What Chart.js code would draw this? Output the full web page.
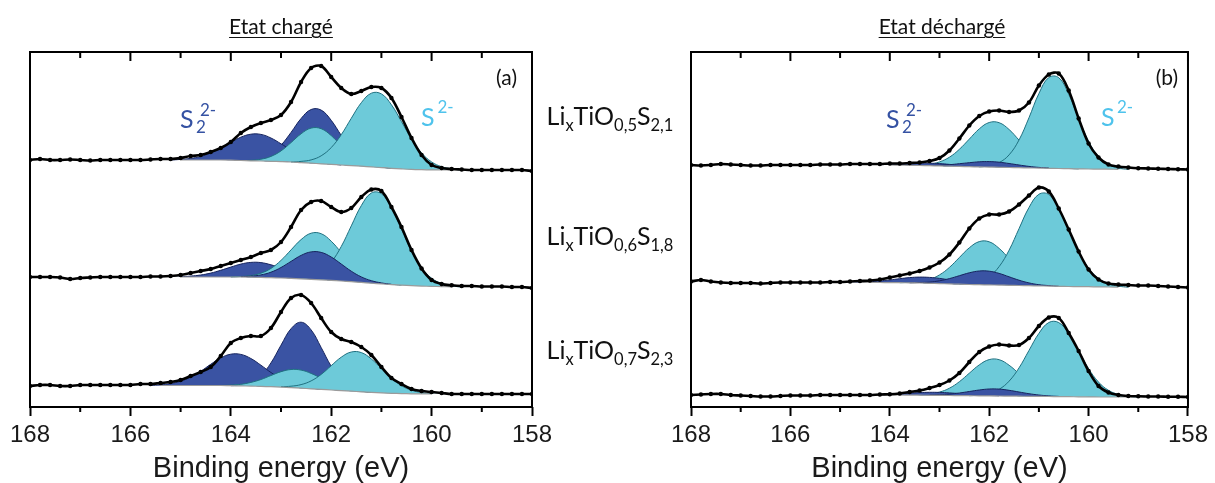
<!DOCTYPE html>
<html lang="fr">
<head>
<meta charset="utf-8">
<title>XPS S 2p - états chargé / déchargé</title>
<script src="https://cdn.jsdelivr.net/npm/chart.js@4.4.1/dist/chart.umd.min.js"></script>
<style>
  html, body { margin: 0; padding: 0; background: #fff; }
  #page { position: relative; width: 1215px; height: 483px; overflow: hidden; font-family: Lato, "Open Sans", sans-serif; color: #111; }
  canvas { position: absolute; top: 0; }
  #charge { left: 0; }
  #decharge { left: 607px; }
  .txt { position: absolute; line-height: 1; white-space: nowrap; }
  .titre { font-size: 21px; width: 240px; text-align: center; text-decoration: underline; text-underline-offset: 3px; text-decoration-thickness: 1px; }
  .compo { font-size: 25px; width: 200px; text-align: center; left: 510px; }
  .compo sub { font-size: 16.5px; vertical-align: -6px; line-height: 0; }
  .lettre { font-size: 21px; width: 60px; text-align: right; }
  .s22 { color: #3552a3; }
  .s2 { color: #4fc3ec; }
  .gros { font-size: 25px; }
  .petit { font-size: 17px; }
</style>
</head>
<body>
<div id="page">
  <canvas id="charge" width="607" height="483"></canvas>
  <canvas id="decharge" width="608" height="483"></canvas>

  <div class="txt titre" style="left:161px; top:14.7px;">Etat chargé</div>
  <div class="txt titre" style="left:822px; top:14.7px;">Etat déchargé</div>

  <div class="txt compo" style="top:102.8px;">Li<sub>x</sub>TiO<sub>0,5</sub>S<sub>2,1</sub></div>
  <div class="txt compo" style="top:222.8px;">Li<sub>x</sub>TiO<sub>0,6</sub>S<sub>1,8</sub></div>
  <div class="txt compo" style="top:336.8px;">Li<sub>x</sub>TiO<sub>0,7</sub>S<sub>2,3</sub></div>

  <div class="txt lettre" style="left:457px; top:66.4px;">(a)</div>
  <div class="txt lettre" style="left:1118px; top:66.4px;">(b)</div>

  <!-- S2^2- et S2- , panneau (a) -->
  <div class="txt s22 gros" style="left:180px; top:105.8px;">S</div>
  <div class="txt s22 petit" style="left:196px; top:118.4px;">2</div>
  <div class="txt s22 petit" style="left:200px; top:100.9px;">2-</div>
  <div class="txt s2 gros" style="left:421px; top:104.3px;">S</div>
  <div class="txt s2 petit" style="left:437.5px; top:98.4px;">2-</div>
  <!-- panneau (b) -->
  <div class="txt s22 gros" style="left:886px; top:105.8px;">S</div>
  <div class="txt s22 petit" style="left:902px; top:118.4px;">2</div>
  <div class="txt s22 petit" style="left:906px; top:100.9px;">2-</div>
  <div class="txt s2 gros" style="left:1101px; top:104.3px;">S</div>
  <div class="txt s2 petit" style="left:1117px; top:98.4px;">2-</div>
</div>

<script>
// grille en énergie de liaison (eV), pas de 0,2
const energies = [
  168.0, 167.8, 167.6, 167.4, 167.2, 167.0, 166.8, 166.6, 166.4, 166.2,
  166.0, 165.8, 165.6, 165.4, 165.2, 165.0, 164.8, 164.6, 164.4, 164.2,
  164.0, 163.8, 163.6, 163.4, 163.2, 163.0, 162.8, 162.6, 162.4, 162.2,
  162.0, 161.8, 161.6, 161.4, 161.2, 161.0, 160.8, 160.6, 160.4, 160.2,
  160.0, 159.8, 159.6, 159.4, 159.2, 159.0, 158.8, 158.6, 158.4, 158.2, 158.0
];

// ---- (a) état chargé ----
// LixTiO0,5S2,1
const dataC1 = [
  10, 11, 10, 10, 10.5, 10, 9.5, 10, 10, 10,
  10, 10, 10.5, 11, 11, 12, 14, 15, 18, 22,
  28, 37, 43, 47, 50, 55, 68, 88, 102, 104,
  93, 82, 76, 79, 83, 82, 72, 53, 32, 15,
  5, 2, 1, 0.5, 0, 0, 0, 0, 0, 0, -1
];
const fondC1 = [
  10, 10, 10, 10, 10, 10, 10, 10, 10, 10,
  10, 10, 10, 10, 10, 10, 10, 10, 10, 10,
  9.8, 9.5, 9.2, 9, 8.7, 8.4, 8, 7.4, 6.8, 6.2,
  5.6, 5, 4.4, 3.8, 3.1, 2.4, 1.7, 1.1, 0.6, 0.3,
  0.1, 0, 0, 0, 0, 0, 0, 0, 0, 0, 0
];
// pics : [2p1/2, 2p3/2], hauteur au-dessus du fond
const s22C1 = [
  { from: 165.0, y: [0.6, 1.6, 3.6, 7.1, 12, 17.8, 23.3, 26.6, 26.6, 23.3, 17.8, 12, 7.1, 3.6, 1.6, 0.6] },
  { from: 163.6, y: [0.8, 2.8, 7.4, 16.4, 29.6, 44.1, 53.7, 53.7, 44.1, 29.6, 16.4, 7.4, 2.8, 0.8] }
];
const s2C1 = [
  { from: 163.6, y: [0.5, 1.8, 4.9, 10.7, 19.4, 28.8, 35.1, 35.1, 28.8, 19.4, 10.7, 4.9, 1.8, 0.5] },
  { from: 162.6, y: [1.2, 3.3, 8, 16.8, 30.3, 47.3, 63.5, 73.7, 73.7, 63.5, 47.3, 30.3, 16.8, 8, 3.3, 1.2] }
];

// LixTiO0,6S1,8
const dataC2 = [
  10, 10, 10, 9.5, 8, 9, 9.5, 10, 10, 10,
  10, 10, 10.5, 10.5, 11, 12, 14, 16, 18, 21,
  24, 27, 30, 34, 37, 45, 60, 77, 85, 86,
  80, 75, 79, 90, 97.5, 96, 80, 60, 37, 18.5,
  7, 3, 1.7, 1, 1, 0.5, 0.5, 0.5, 0, 0, -1
];
const fondC2 = [
  10, 10, 10, 10, 10, 10, 10, 10, 10, 10,
  10, 10, 10, 10, 10, 10, 10, 10, 10, 10,
  10, 10, 9.8, 9.6, 9.3, 9, 8.6, 8.2, 7.7, 7.2,
  6.6, 6, 5.3, 4.6, 3.8, 3.1, 2.4, 1.8, 1.3, 0.9,
  0.6, 0.4, 0.2, 0, 0, 0, 0, 0, 0, 0, 0
];
const s22C2 = [
  { from: 165.0, y: [0.4, 0.9, 2, 3.9, 6.7, 9.9, 12.9, 14.8, 14.8, 12.9, 9.9, 6.7, 3.9, 2, 0.9, 0.4] },
  { from: 163.8, y: [0.3, 1, 2.5, 5.5, 10.5, 17, 23.4, 27.4, 27.4, 23.4, 17, 10.5, 5.5, 2.5, 1, 0.3] }
];
const s2C2 = [
  { from: 163.8, y: [0.5, 1.6, 4.2, 9.3, 17.6, 28.5, 39.2, 46.1, 46.1, 39.2, 28.5, 17.6, 9.3, 4.2, 1.6, 0.5] },
  { from: 162.6, y: [1, 3.1, 8.2, 18.2, 34.5, 55.8, 76.8, 90.2, 90.2, 76.8, 55.8, 34.5, 18.2, 8.2, 3.1, 1] }
];

// LixTiO0,7S2,3
const dataC3 = [
  8, 9, 9, 8, 8, 9, 9, 9, 9, 9,
  9, 10, 10, 11, 12, 14, 18, 22, 27, 38,
  51, 56, 58, 58, 66, 82, 96, 99, 91, 76,
  62, 55, 52, 47, 39, 27, 16, 10, 5, 3,
  2, 1, 0, 0, 0, 0, 0, 0, 0, 0, 0
];
const fondC3 = [
  8.5, 8.5, 8.5, 8.5, 8.5, 8.5, 8.5, 8.5, 8.5, 8.5,
  8.5, 8.5, 8.5, 8.5, 8.5, 8.5, 8.5, 8.5, 8.5, 8.5,
  8.3, 8.1, 7.9, 7.6, 7.3, 6.9, 6.4, 5.8, 5.2, 4.6,
  4, 3.4, 2.8, 2.2, 1.6, 1.1, 0.7, 0.4, 0.2, 0.1,
  0, 0, 0, 0, 0, 0, 0, 0, 0, 0, 0
];
const s22C3 = [
  { from: 165.4, y: [0.8, 2, 4.3, 8.4, 14.2, 21.2, 27.6, 31.5, 31.5, 27.6, 21.2, 14.2, 8.4, 4.3, 2, 0.8] },
  { from: 163.8, y: [1.1, 3.9, 10.8, 23.8, 41.9, 58.9, 66, 58.9, 41.9, 23.8, 10.8, 3.9, 1.1] }
];
const s2C3 = [
  { from: 164.0, y: [0.6, 1.6, 3.7, 6.9, 11.2, 15.4, 18.1, 18.1, 15.4, 11.2, 6.9, 3.7, 1.6, 0.6] },
  { from: 163.0, y: [0.4, 1.4, 3.6, 7.9, 15, 24.3, 33.4, 39.2, 39.2, 33.4, 24.3, 15, 7.9, 3.6, 1.4, 0.4] }
];

// ---- (b) état déchargé ----
const dataD1 = [
  4.5, 4, 4.5, 5.5, 5, 4.5, 4, 4, 4.5, 4.5,
  4.5, 4.5, 4.5, 5, 5, 5, 5.5, 5.5, 5.5, 5.5,
  6, 6, 6.5, 7, 8.5, 11.5, 19, 31, 44, 53.5,
  58, 59, 57.5, 59, 67, 84, 95, 96, 79, 51,
  26, 12, 5, 3, 2, 1.3, 1, 0.7, 0.5, 0.3, 0
];
const fondD1 = [
  4.5, 4.5, 4.5, 4.5, 4.5, 4.5, 4.5, 4.5, 4.5, 4.5,
  4.5, 4.5, 4.5, 4.5, 4.5, 4.5, 4.5, 4.5, 4.5, 4.5,
  4.5, 4.4, 4.2, 4, 3.8, 3.6, 3.3, 3.1, 2.8, 2.6,
  2.4, 2.2, 2, 1.8, 1.6, 1.4, 1.2, 1, 0.8, 0.6,
  0.5, 0.4, 0.3, 0.2, 0.1, 0, 0, 0, 0, 0, 0
];
const s22D1 = [
  { from: 164.4, y: [0.1, 0.3, 0.7, 1.2, 1.8, 2.3, 2.5, 2.3, 1.8, 1.2, 0.7, 0.3, 0.1] },
  { from: 163.2, y: [0.3, 0.7, 1.5, 2.7, 4, 5.1, 5.5, 5.1, 4, 2.7, 1.5, 0.7, 0.3] }
];
const s2D1 = [
  { from: 163.4, y: [0.5, 1.5, 4, 9, 17.1, 27.6, 38, 44.6, 44.6, 38, 27.6, 17.1, 9, 4, 1.5, 0.5] },
  { from: 162.0, y: [1.4, 4.7, 12.6, 27.7, 50.1, 74.5, 90.8, 90.8, 74.5, 50.1, 27.7, 12.6, 4.7, 1.4] }
];

const dataD2 = [
  6, 7.5, 6, 5, 4.5, 4.5, 4.5, 4, 4.5, 5,
  5, 5, 5, 5, 5.5, 5.5, 6, 6.5, 7, 8,
  10, 12, 14, 16.5, 20, 25, 33, 45, 59, 69,
  73, 73, 76, 83, 92, 100, 96, 79, 58, 36,
  18, 8, 4, 3, 2.5, 2, 2, 1.5, 1, 0.5, 0
];
const fondD2 = [
  5, 5, 5, 5, 5, 5, 5, 5, 5, 5,
  5, 5, 5, 5, 5, 5, 5, 5, 5, 5,
  4.9, 4.8, 4.7, 4.5, 4.2, 3.9, 3.6, 3.3, 3, 2.8,
  2.6, 2.4, 2.2, 2, 1.8, 1.6, 1.4, 1.2, 1, 0.9,
  0.8, 0.6, 0.5, 0.4, 0.3, 0.2, 0.1, 0, 0, 0, 0
];
const s22D2 = [
  { from: 164.6, y: [0.4, 0.8, 1.6, 2.7, 4, 5.2, 5.9, 5.9, 5.2, 4, 2.7, 1.6, 0.8, 0.4] },
  { from: 163.4, y: [0.5, 1.2, 2.8, 5.3, 8.5, 11.7, 13.7, 13.7, 11.7, 8.5, 5.3, 2.8, 1.2, 0.5] }
];
const s2D2 = [
  { from: 163.6, y: [0.5, 1.5, 3.9, 8.7, 16.5, 26.7, 36.7, 43.1, 43.1, 36.7, 26.7, 16.5, 8.7, 3.9, 1.5, 0.5] },
  { from: 162.4, y: [1, 3.2, 8.3, 18.5, 35.1, 56.8, 78.1, 91.6, 91.6, 78.1, 56.8, 35.1, 18.5, 8.3, 3.2, 1] }
];

const dataD3 = [
  2, 2.5, 3, 3, 2, 1.5, 1, 0.5, 0.5, 1,
  1.5, 1.5, 1.5, 2, 2, 2, 2, 2, 2, 2.5,
  2.7, 3.5, 5, 6.5, 9, 12, 16.5, 24, 35, 45,
  50.5, 52.5, 51.5, 52, 59, 71, 79.5, 79, 64, 46,
  26, 11, 4.5, 2, 1, 0.7, 0.5, 0.5, 0.3, 0.2, 0
];
const fondD3 = [
  2, 2, 2, 2, 2, 2, 2, 2, 2, 2,
  2, 2, 2, 2, 2, 2, 2, 2, 2, 2,
  2, 2, 1.9, 1.8, 1.7, 1.6, 1.5, 1.4, 1.3, 1.2,
  1.1, 1, 0.9, 0.8, 0.7, 0.6, 0.5, 0.4, 0.3, 0.2,
  0.1, 0, 0, 0, 0, 0, 0, 0, 0, 0, 0
];
const s22D3 = [
  { from: 164.4, y: [0.2, 0.4, 0.8, 1.3, 2, 2.6, 3, 3, 2.6, 2, 1.3, 0.8, 0.4, 0.2] },
  { from: 163.2, y: [0.2, 0.6, 1.4, 2.6, 4.2, 5.8, 6.9, 6.9, 5.8, 4.2, 2.6, 1.4, 0.6, 0.2] }
];
const s2D3 = [
  { from: 163.4, y: [0.4, 1.3, 3.3, 7.3, 13.9, 22.5, 30.9, 36.3, 36.3, 30.9, 22.5, 13.9, 7.3, 3.3, 1.3, 0.4] },
  { from: 162.2, y: [0.8, 2.6, 6.7, 14.9, 28.3, 45.8, 63, 74, 74, 63, 45.8, 28.3, 14.9, 6.7, 2.6, 0.8] }
];

// empilement vertical des spectres et ordre des pics (du dessous vers le dessus)
// indices : 0 = S2(2-) 2p1/2, 1 = S2(2-) 2p3/2, 2 = S(2-) 2p1/2, 3 = S(2-) 2p3/2
const charge = [
  { data: dataC1, fond: fondC1, s22: s22C1, s2: s2C1, offset: 237, pile: [1, 0, 2, 3] },
  { data: dataC2, fond: fondC2, s22: s22C2, s2: s2C2, offset: 120, pile: [0, 2, 3, 1] },
  { data: dataC3, fond: fondC3, s22: s22C3, s2: s2C3, offset: 13, pile: [1, 0, 2, 3] }
];
const decharge = [
  { data: dataD1, fond: fondD1, s22: s22D1, s2: s2D1, offset: 237.5, pile: [2, 3, 0, 1] },
  { data: dataD2, fond: fondD2, s22: s22D2, s2: s2D2, offset: 119.5, pile: [2, 3, 0, 1] },
  { data: dataD3, fond: fondD3, s22: s22D3, s2: s2D3, offset: 10, pile: [2, 3, 0, 1] }
];

const BLEU = '#3a53a3', BLEU_TRAIT = '#16245e';
const CYAN = '#6dcad9', CYAN_TRAIT = '#1f7080';
const GRIS = '#9b9b9b', RIEN = 'rgba(0,0,0,0)';
const AXE_FONT = '"Liberation Sans", Arial, sans-serif';

// pic compact -> valeurs sur toute la grille
function surGrille(pk) {
  const out = energies.map(() => 0);
  const i0 = Math.round((168 - pk.from) / 0.2);
  pk.y.forEach((v, k) => { out[i0 + k] = v; });
  return out;
}

function buildDatasets(spectres) {
  const ds = [];
  spectres.forEach(sp => {
    const pics = [sp.s22[0], sp.s22[1], sp.s2[0], sp.s2[1]].map(surGrille);
    const fonds = [BLEU, BLEU, CYAN, CYAN];
    const traits = [BLEU_TRAIT, BLEU_TRAIT, CYAN_TRAIT, CYAN_TRAIT];
    const sousPic = energies.map((e, i) => pics.some(p => p[i] > 0.3));
    const iFond = ds.length;

    // fond (ligne grise), visible seulement sous les pics
    ds.push({
      data: energies.map((e, i) => ({ x: e, y: sp.offset + sp.fond[i] })),
      borderColor: GRIS, borderWidth: 1.2, pointRadius: 0, tension: 0.4, fill: false, order: 1,
      segment: { borderColor: c => (sousPic[c.p0DataIndex] && sousPic[c.p1DataIndex] ? GRIS : RIEN) }
    });

    sp.pile.forEach((k, rang) => {
      const p = pics[k];
      ds.push({
        data: energies.map((e, i) => ({ x: e, y: sp.offset + sp.fond[i] + p[i] })),
        backgroundColor: fonds[k], borderColor: traits[k], borderWidth: 1,
        pointRadius: 0, tension: 0.4, fill: iFond, order: 9 - rang,
        segment: { borderColor: c => (p[c.p0DataIndex] + p[c.p1DataIndex] > 0.4 ? traits[k] : RIEN) }
      });
    });

    // mesure + enveloppe
    ds.push({
      data: energies.map((e, i) => ({ x: e, y: sp.offset + sp.data[i] })),
      borderColor: '#000', borderWidth: 2.6, tension: 0.35, fill: false, order: 0,
      pointRadius: 2.2, pointBorderWidth: 0, pointBackgroundColor: '#000'
    });
  });
  return ds;
}

// cadre + graduations (dessus vers l'intérieur, mineures du bas)
const cadre = {
  id: 'cadre',
  afterDraw(chart) {
    const { ctx, chartArea: a, scales: { x } } = chart;
    ctx.save();
    ctx.strokeStyle = '#000';
    ctx.lineWidth = 2;
    ctx.strokeRect(a.left, a.top, a.right - a.left, a.bottom - a.top);
    ctx.beginPath();
    x.ticks.forEach(t => {
      const px = x.getPixelForValue(t.value);
      const major = t.value % 2 === 0;
      ctx.moveTo(px, a.top);
      ctx.lineTo(px, a.top + (major ? 9 : 6));
      if (!major) {
        ctx.moveTo(px, a.bottom);
        ctx.lineTo(px, a.bottom + 5);
      }
    });
    ctx.stroke();
    ctx.restore();
  }
};

function makeChart(id, spectres, padLeft, padRight) {
  return new Chart(document.getElementById(id), {
    type: 'line',
    data: { datasets: buildDatasets(spectres) },
    options: {
      responsive: false,
      animation: false,
      events: [],
      layout: { padding: { left: padLeft, right: padRight, top: 52, bottom: 0 } },
      plugins: { legend: { display: false }, tooltip: { enabled: false } },
      scales: {
        x: {
          type: 'linear', reverse: true, min: 158, max: 168,
          border: { display: false },
          grid: {
            drawOnChartArea: false, tickLength: 9, tickWidth: 2,
            tickColor: c => (c.tick && c.tick.value % 2 === 0 ? '#000' : RIEN)
          },
          ticks: {
            stepSize: 1, autoSkip: false, maxRotation: 0, padding: 7, color: '#1a1a1a',
            font: { family: AXE_FONT, size: 24, lineHeight: 1 },
            callback: v => (v % 2 === 0 ? v : '')
          },
          title: {
            display: true, text: 'Binding energy (eV)', color: '#1a1a1a', padding: 0,
            font: { family: AXE_FONT, size: 29, lineHeight: 1 }
          }
        },
        y: { display: false, min: 0, max: 355 }
      }
    },
    plugins: [cadre]
  });
}

makeChart('charge', charge, 30, 75);
makeChart('decharge', decharge, 84, 22);
</script>
</body>
</html>
